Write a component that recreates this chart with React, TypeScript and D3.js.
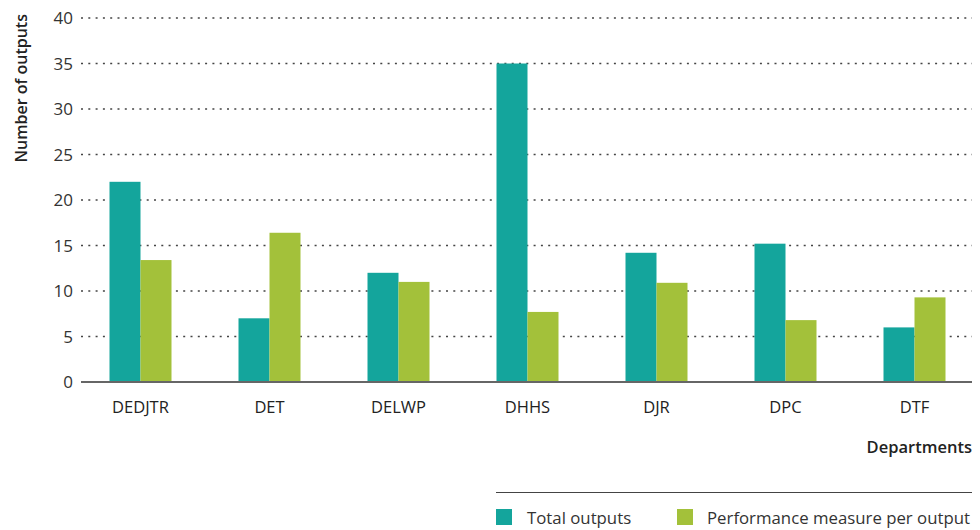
import React from "react";
import * as d3 from "d3";

const categories = ["DEDJTR", "DET", "DELWP", "DHHS", "DJR", "DPC", "DTF"];
const totalOutputs = [22, 7, 12, 35, 14.2, 15.2, 6];
const perfPerOutput = [13.4, 16.4, 11, 7.7, 10.9, 6.8, 9.3];
const yTicks = [0, 5, 10, 15, 20, 25, 30, 35, 40];
const seriesNames = ["Total outputs", "Performance measure per output"];
const colors = ["#14a59c", "#a3c13a"];

export default function App() {
  const W = 980, H = 530;
  const x0 = 81, x1 = 972;
  const y = d3.scaleLinear().domain([0, 40]).range([382, 18]);
  const xb = d3.scaleBand().domain(categories).range([76, 979]).paddingInner(0).paddingOuter(0);
  const barW = 31;
  const font = "'Open Sans', 'Noto Sans', sans-serif";
  return (
    <svg width={W} height={H} style={{ position: "absolute", left: 0, top: 0, background: "#fff" }} fontFamily={font}>
      {yTicks.filter(t => t > 0).map(t => (
        <line key={t} x1={x0} x2={x1} y1={y(t)} y2={y(t)} stroke="#444" strokeWidth={1.3} strokeDasharray="2,5.3" />
      ))}
      {yTicks.map(t => (
        <text key={"l" + t} x={73} y={y(t)} dy="0.36em" textAnchor="end" fontSize={17} fill="#333">{t}</text>
      ))}
      {categories.map((c, i) => {
        const cx = (xb(c) as number) + xb.bandwidth() / 2;
        return (
          <g key={c}>
            <rect x={cx - barW} y={y(totalOutputs[i])} width={barW} height={y(0) - y(totalOutputs[i])} fill={colors[0]} />
            <rect x={cx} y={y(perfPerOutput[i])} width={barW} height={y(0) - y(perfPerOutput[i])} fill={colors[1]} />
            <text x={cx} y={413} textAnchor="middle" fontSize={16.5} fill="#222">{c}</text>
          </g>
        );
      })}
      <line x1={x0} x2={x1} y1={y(0)} y2={y(0)} stroke="#666" strokeWidth={2} />
      <text transform="translate(27,14) rotate(-90)" textAnchor="end" fontSize={16} fontWeight={600} fill="#222">Number of outputs</text>
      <text x={972} y={453} textAnchor="end" fontSize={16.5} fontWeight={600} fill="#222">Departments</text>
      <line x1={496} x2={972} y1={492.5} y2={492.5} stroke="#444" strokeWidth={1} />
      <rect x={496} y={509} width={16} height={16} fill={colors[0]} />
      <text x={527} y={524} fontSize={16.8} fill="#333">{seriesNames[0]}</text>
      <rect x={677} y={509} width={16} height={16} fill={colors[1]} />
      <text x={707} y={524} fontSize={16.8} fill="#333">{seriesNames[1]}</text>
    </svg>
  );
}
